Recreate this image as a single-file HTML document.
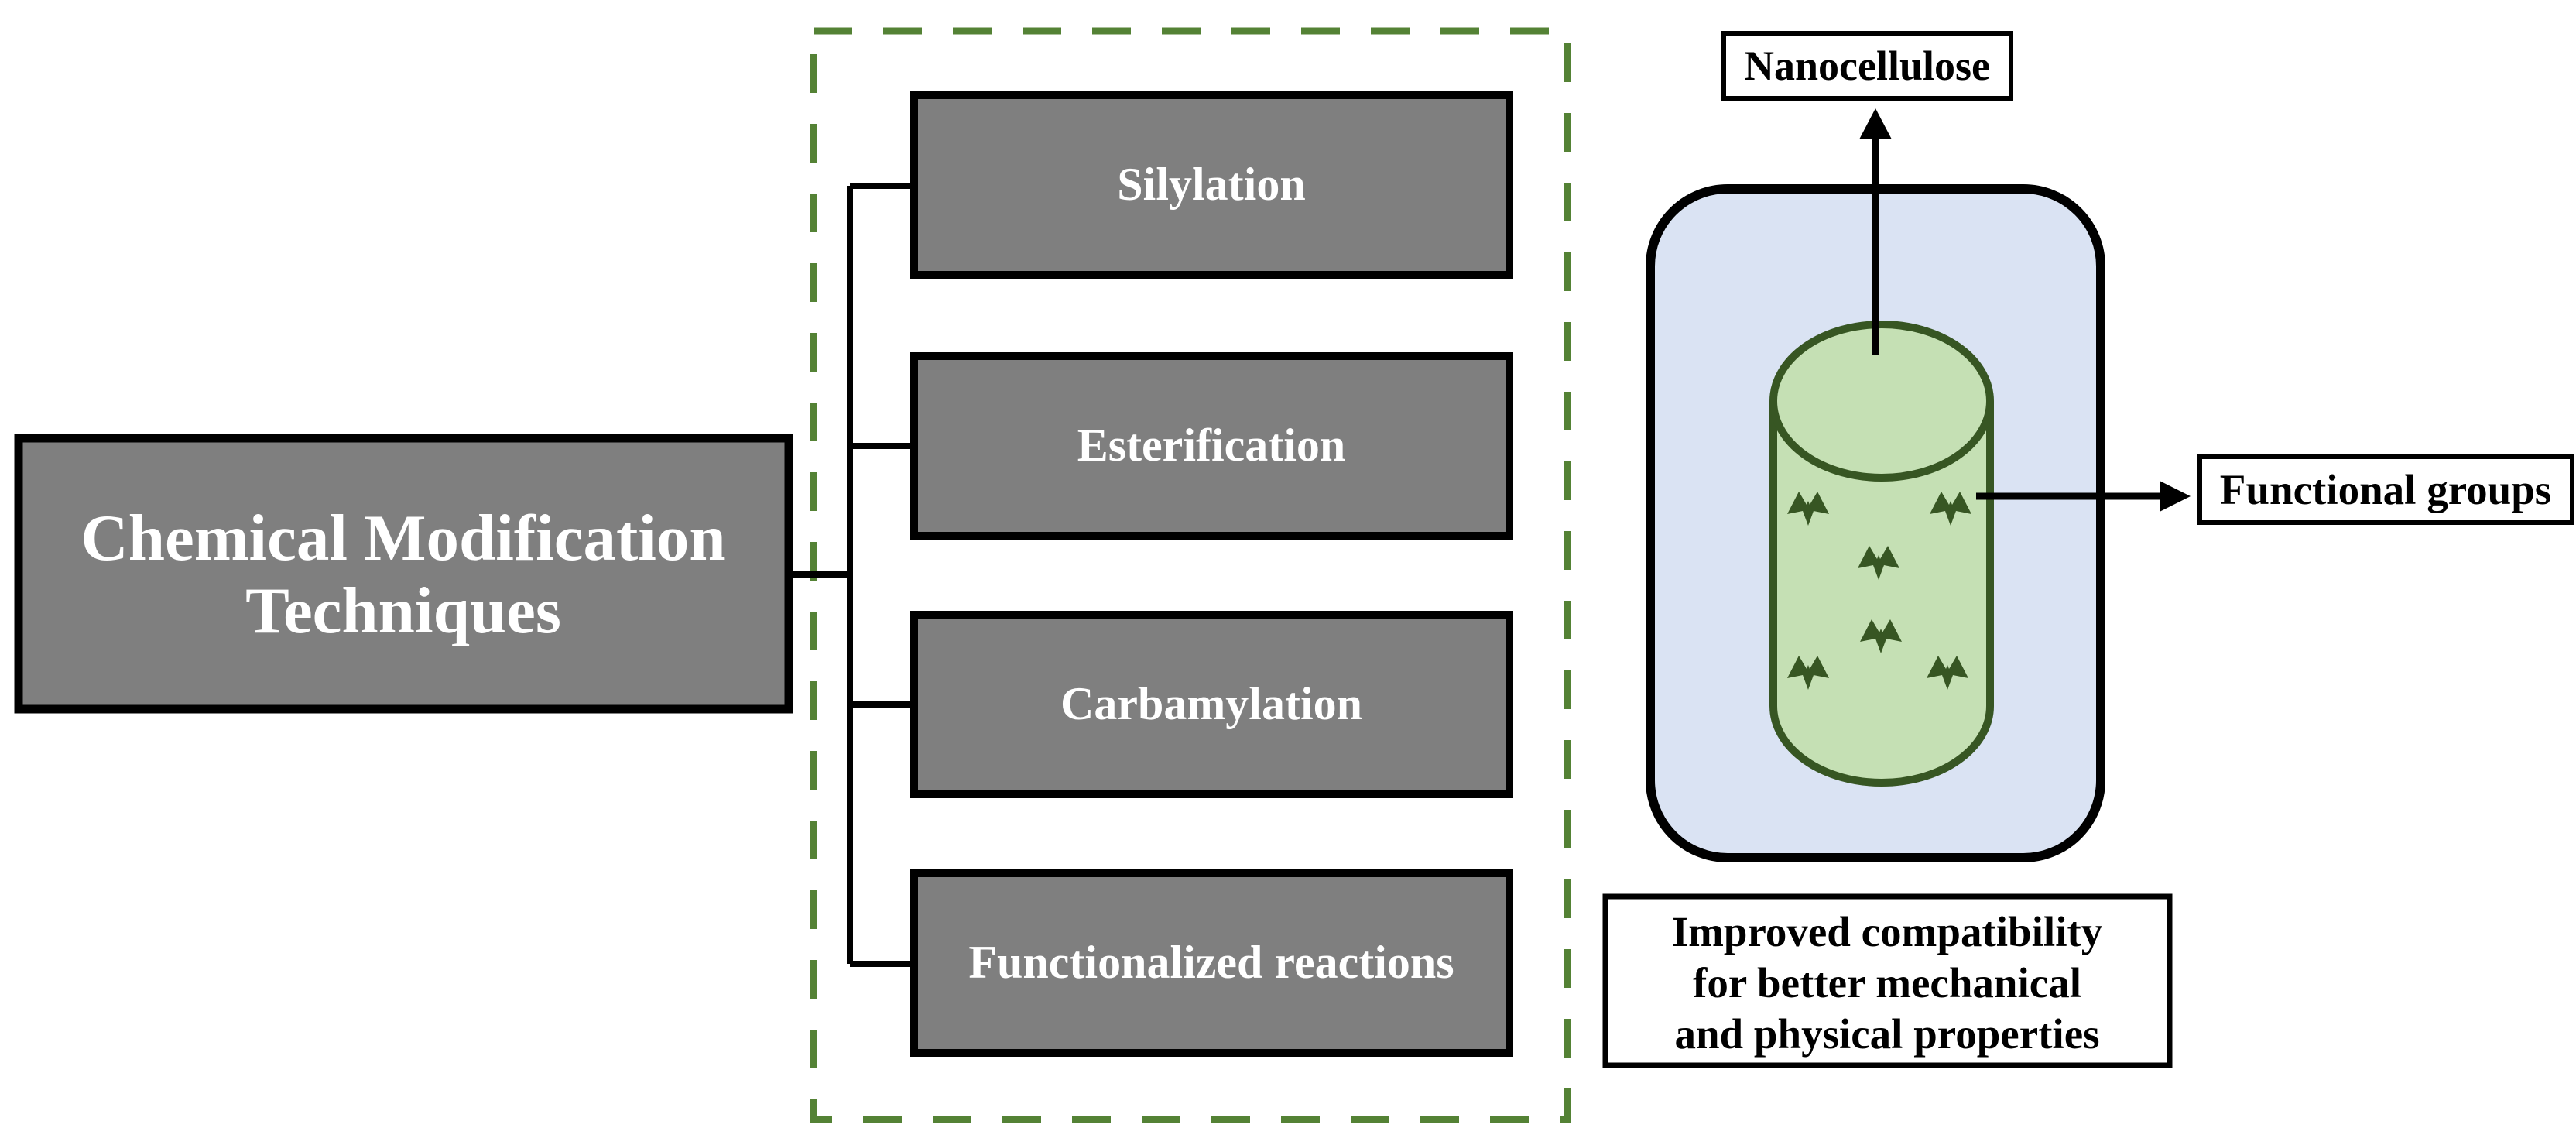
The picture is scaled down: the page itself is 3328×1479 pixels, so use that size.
<!DOCTYPE html>
<html><head><meta charset="utf-8"><style>
html,body{margin:0;padding:0;background:#fff;}
svg{display:block;}
text{font-family:"Liberation Serif",serif;font-weight:bold;}
</style></head><body>
<svg width="3328" height="1479" viewBox="0 0 3328 1479" xmlns="http://www.w3.org/2000/svg">
<defs>
<g id="bat"><path d="M-27,14 L-12,-15 L-2,2 L0,-3 L2,2 L12,-15 L27,14 L7,10 L0,29 L-7,10 Z" fill="#375623"/></g>
</defs>
<rect x="1051" y="40" width="974" height="1406" fill="none" stroke="#548235" stroke-width="9" stroke-dasharray="50,40"/>
<rect x="24" y="566" width="995" height="350" fill="#7f7f7f" stroke="#000" stroke-width="11"/>
<text x="521" y="723" font-size="85" fill="#fff" text-anchor="middle">Chemical Modification</text>
<text x="521" y="817" font-size="85" fill="#fff" text-anchor="middle">Techniques</text>
<path d="M1024,742 H1098 M1098,240 V1245 M1098,240 H1176 M1098,576 H1176 M1098,910 H1176 M1098,1245 H1176" stroke="#000" stroke-width="8" fill="none"/>
<g fill="#7f7f7f" stroke="#000" stroke-width="10">
<rect x="1181" y="123" width="769" height="232"/>
<rect x="1181" y="460" width="769" height="232"/>
<rect x="1181" y="794" width="769" height="232"/>
<rect x="1181" y="1128" width="769" height="232"/>
</g>
<g fill="#fff" font-size="60" text-anchor="middle">
<text x="1565" y="258">Silylation</text>
<text x="1565" y="595">Esterification</text>
<text x="1565" y="929">Carbamylation</text>
<text x="1565" y="1263">Functionalized reactions</text>
</g>
<rect x="2132" y="244" width="582" height="864" rx="100" fill="#dae3f3" stroke="#000" stroke-width="12"/>
<path d="M2291,518 V912 A140,99 0 0 0 2571,912 V518" fill="#c5e0b4" stroke="#375623" stroke-width="10"/>
<ellipse cx="2431" cy="518" rx="140" ry="99" fill="#c5e0b4" stroke="#375623" stroke-width="10"/>
<use href="#bat" x="2336" y="650"/>
<use href="#bat" x="2520" y="650"/>
<use href="#bat" x="2427" y="720"/>
<use href="#bat" x="2430" y="815"/>
<use href="#bat" x="2336" y="862"/>
<use href="#bat" x="2516" y="862"/>
<line x1="2423" y1="458" x2="2423" y2="172" stroke="#000" stroke-width="10"/>
<polygon points="2402,180 2444,180 2423,140" fill="#000"/>
<line x1="2553" y1="641" x2="2795" y2="641" stroke="#000" stroke-width="9"/>
<polygon points="2790,621 2790,661 2830,641" fill="#000"/>
<rect x="2227" y="43" width="371" height="84" fill="#fff" stroke="#000" stroke-width="6"/>
<text x="2412" y="103" font-size="54" text-anchor="middle">Nanocellulose</text>
<rect x="2842" y="590" width="481" height="85" fill="#fff" stroke="#000" stroke-width="6"/>
<text x="3082" y="651" font-size="55" text-anchor="middle">Functional groups</text>
<rect x="2074" y="1158" width="729" height="218" fill="#fff" stroke="#000" stroke-width="7"/>
<g font-size="55" text-anchor="middle">
<text x="2438" y="1222">Improved compatibility</text>
<text x="2438" y="1288">for better mechanical</text>
<text x="2438" y="1354">and physical properties</text>
</g>
</svg>
</body></html>
